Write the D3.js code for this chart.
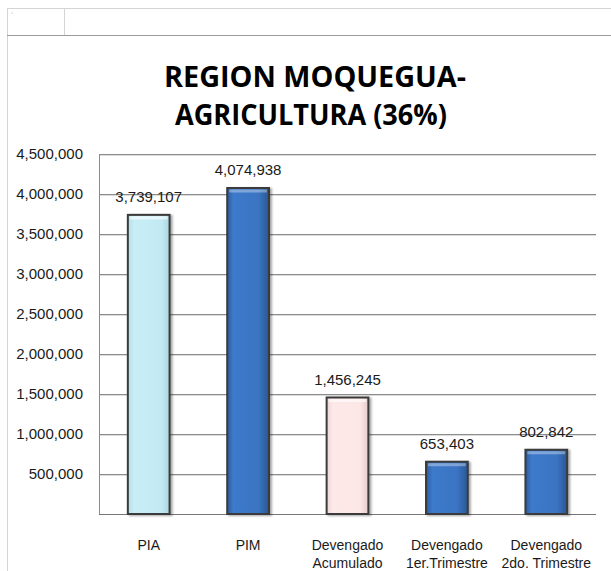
<!DOCTYPE html>
<html>
<head>
  <meta charset="UTF-8">
  <style>
    body { margin: 0; background: #fff; }
    svg { display: block; font-family: "Liberation Sans", Arial, sans-serif; }
    .tick text { font-size: 15px; fill: #1a1a1a; }
    .title { font-family: "Open Sans", "Noto Sans", sans-serif; font-weight: bold; font-size: 29px; fill: #000; }
  </style>
</head>
<body>
<svg></svg>
<script src="https://d3js.org/d3.v7.min.js"></script>
<script>

// data
const categories = ["PIA", "PIM", "Devengado Acumulado", "Devengado 1er.Trimestre", "Devengado 2do. Trimestre"];
const labelLines = [["PIA"], ["PIM"], ["Devengado", "Acumulado"], ["Devengado", "1er.Trimestre"], ["Devengado", "2do. Trimestre"]];
const values = [3739107, 4074938, 1456245, 653403, 802842];
const barKind = ["cyan", "blue", "pink", "blue", "blue"];
const yTicks = [500000, 1000000, 1500000, 2000000, 2500000, 3000000, 3500000, 4000000, 4500000];

let width = 611, height = 571;
let margin = {left: 99, right: 15, top: 154, bottom: 57};

let svg = d3.select("svg")
    .attr("width", width)
    .attr("height", height);

svg.append("rect").attr("width", width).attr("height", height).attr("fill", "#fff");

// spreadsheet frame around the chart
svg.append("line").attr("x1", 7).attr("x2", width).attr("y1", 8.5).attr("y2", 8.5).attr("stroke", "#d4d4d4");
svg.append("line").attr("x1", 7.5).attr("x2", 7.5).attr("y1", 8).attr("y2", height).attr("stroke", "#d4d4d4");
svg.append("line").attr("x1", 7).attr("x2", width).attr("y1", 35.5).attr("y2", 35.5).attr("stroke", "#9a9a9a");
svg.append("line").attr("x1", 64.5).attr("x2", 64.5).attr("y1", 8).attr("y2", 35).attr("stroke", "#d4d4d4");
svg.append("text").attr("x", 11).attr("y", 16).attr("font-size", 6).attr("fill", "#ccc").text("°");

// gradients
let defs = svg.append("defs");
function grad(id, stops) {
    let g = defs.append("linearGradient").attr("id", id)
        .attr("x1", "0").attr("x2", "1").attr("y1", "0").attr("y2", "0");
    stops.forEach(s => g.append("stop").attr("offset", s[0]).attr("stop-color", s[1]));
}
grad("g-cyan", [[0, "#b3dfea"], [0.15, "#c8edf6"], [0.8, "#c3eaf4"], [1, "#a9d6e2"]]);
grad("g-blue", [[0, "#2c5c9e"], [0.15, "#3d7acb"], [0.75, "#3a74c2"], [1, "#2a5796"]]);
grad("g-pink", [[0, "#eed4d4"], [0.15, "#fde9e9"], [0.8, "#fde6e6"], [1, "#e8cccc"]]);

let shadow = defs.append("filter").attr("id", "shadow").attr("x", "-20%").attr("y", "-10%").attr("width", "150%").attr("height", "130%");
shadow.append("feDropShadow").attr("dx", 2).attr("dy", 1).attr("stdDeviation", 1.2).attr("flood-color", "#000").attr("flood-opacity", 0.35);

// title
svg.append("text").attr("class", "title").attr("x", 315).attr("y", 87)
    .attr("text-anchor", "middle").attr("textLength", 302).attr("lengthAdjust", "spacingAndGlyphs")
    .text("REGION MOQUEGUA-");
svg.append("text").attr("class", "title").attr("x", 311).attr("y", 125)
    .attr("text-anchor", "middle").attr("textLength", 272).attr("lengthAdjust", "spacingAndGlyphs")
    .text("AGRICULTURA (36%)");

let x = d3.scaleBand()
    .domain(categories)
    .range([margin.left, width - margin.right])
    .paddingInner(0.58)
    .paddingOuter(0.29);

let y = d3.scaleLinear()
    .domain([0, 4500000])
    .range([height - margin.bottom, margin.top]);

// gridlines (with light shadow line)
let grid = svg.append("g");
grid.selectAll("line.shade").data(yTicks).enter().append("line")
    .attr("x1", margin.left).attr("x2", width - margin.right)
    .attr("y1", d => Math.round(y(d)) + 1.5).attr("y2", d => Math.round(y(d)) + 1.5)
    .attr("stroke", "#dcdcdc");
grid.selectAll("line.main").data(yTicks).enter().append("line")
    .attr("x1", margin.left).attr("x2", width - margin.right)
    .attr("y1", d => Math.round(y(d)) + 0.5).attr("y2", d => Math.round(y(d)) + 0.5)
    .attr("stroke", "#8c8c8c");

// y axis
let yAxis = svg.append("g")
    .attr("transform", "translate(" + margin.left + ",0)")
    .call(d3.axisLeft(y).tickValues(yTicks).tickFormat(d3.format(",")).tickSize(0).tickPadding(16));
yAxis.select(".domain").attr("stroke", "#8c8c8c");

// baseline
svg.append("line")
    .attr("x1", margin.left).attr("x2", width - margin.right)
    .attr("y1", y(0) + 0.5).attr("y2", y(0) + 0.5)
    .attr("stroke", "#777");

// bars
let bars = svg.append("g").selectAll("g").data(values).enter().append("g");
bars.append("rect")
    .attr("x", (d, i) => x(categories[i]))
    .attr("y", d => y(d))
    .attr("width", x.bandwidth())
    .attr("height", d => y(0) - y(d))
    .attr("fill", (d, i) => "url(#g-" + barKind[i] + ")")
    .attr("stroke", "#3a3a3a")
    .attr("stroke-width", 2)
    .attr("filter", "url(#shadow)");
// top bevel highlight
bars.append("rect")
    .attr("x", (d, i) => x(categories[i]) + 2)
    .attr("y", d => y(d) + 1.5)
    .attr("width", x.bandwidth() - 4)
    .attr("height", 3)
    .attr("fill", "#fff")
    .attr("opacity", (d, i) => barKind[i] == "blue" ? 0.35 : 0.6);

// value labels
bars.append("text")
    .attr("x", (d, i) => x(categories[i]) + x.bandwidth() / 2)
    .attr("y", d => y(d) - 13)
    .attr("text-anchor", "middle")
    .attr("font-size", 15)
    .attr("fill", "#1a1a1a")
    .text(d => d3.format(",")(d));

// category labels
let xl = svg.append("g").selectAll("text").data(labelLines).enter().append("text")
    .attr("text-anchor", "middle")
    .attr("font-size", 14)
    .attr("fill", "#1a1a1a");
xl.selectAll("tspan").data((d, i) => d.map(t => ({t: t, i: i}))).enter().append("tspan")
    .attr("x", d => x(categories[d.i]) + x.bandwidth() / 2)
    .attr("y", (d, j) => 550 + j * 18)
    .text(d => d.t);

</script>
</body>
</html>
